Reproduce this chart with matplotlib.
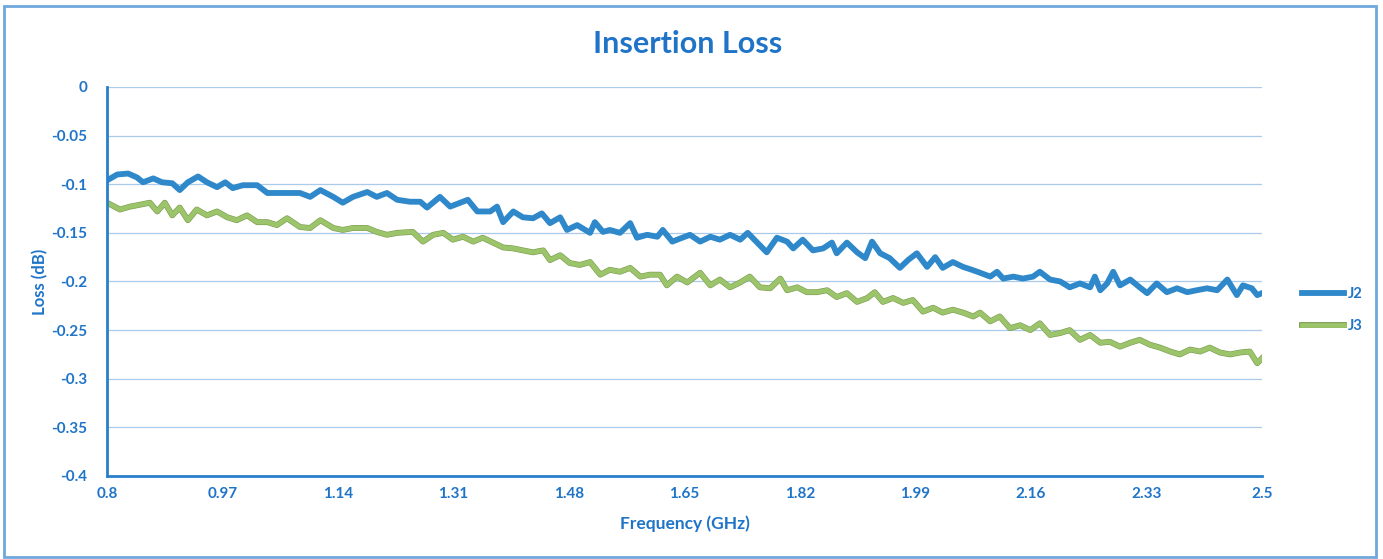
import matplotlib
matplotlib.use('Agg')
import matplotlib.pyplot as plt
import matplotlib.patheffects as pe
from matplotlib.patches import Rectangle

# values
j2_freq = [0.800, 0.815, 0.831, 0.844, 0.853, 0.868, 0.881, 0.896, 0.907, 0.919,
           0.934, 0.947, 0.962, 0.974, 0.985, 1.000, 1.021, 1.036, 1.050, 1.065,
           1.084, 1.099, 1.114, 1.133, 1.147, 1.162, 1.183, 1.197, 1.212, 1.227,
           1.246, 1.261, 1.271, 1.290, 1.305, 1.320, 1.331, 1.345, 1.364, 1.374,
           1.383, 1.398, 1.412, 1.427, 1.440, 1.452, 1.467, 1.477, 1.492, 1.511,
           1.518, 1.530, 1.540, 1.555, 1.570, 1.580, 1.595, 1.610, 1.618, 1.632,
           1.643, 1.658, 1.673, 1.688, 1.702, 1.717, 1.732, 1.743, 1.757, 1.771,
           1.786, 1.801, 1.810, 1.824, 1.839, 1.854, 1.867, 1.874, 1.889, 1.904,
           1.916, 1.926, 1.938, 1.952, 1.967, 1.979, 1.992, 2.007, 2.019, 2.030,
           2.045, 2.060, 2.073, 2.085, 2.100, 2.110, 2.119, 2.134, 2.148, 2.163,
           2.173, 2.188, 2.203, 2.217, 2.232, 2.247, 2.254, 2.262, 2.272, 2.281,
           2.291, 2.306, 2.320, 2.331, 2.345, 2.360, 2.375, 2.390, 2.404, 2.419,
           2.434, 2.449, 2.463, 2.472, 2.485, 2.493, 2.500]
j2_loss = [-0.096, -0.090, -0.089, -0.093, -0.098, -0.094, -0.098, -0.099, -0.106, -0.098,
           -0.092, -0.098, -0.103, -0.098, -0.104, -0.101, -0.101, -0.109, -0.109, -0.109,
           -0.109, -0.113, -0.106, -0.113, -0.119, -0.113, -0.108, -0.113, -0.109, -0.116,
           -0.118, -0.118, -0.124, -0.113, -0.123, -0.119, -0.116, -0.128, -0.128, -0.123,
           -0.139, -0.128, -0.134, -0.135, -0.130, -0.140, -0.134, -0.147, -0.142, -0.150,
           -0.139, -0.149, -0.147, -0.150, -0.140, -0.155, -0.152, -0.154, -0.147, -0.159,
           -0.156, -0.152, -0.159, -0.154, -0.157, -0.152, -0.157, -0.150, -0.160, -0.170,
           -0.155, -0.159, -0.166, -0.157, -0.168, -0.166, -0.160, -0.171, -0.160, -0.170,
           -0.176, -0.159, -0.171, -0.176, -0.186, -0.178, -0.171, -0.185, -0.175, -0.186,
           -0.180, -0.185, -0.188, -0.191, -0.195, -0.190, -0.197, -0.195, -0.197, -0.195,
           -0.190, -0.198, -0.200, -0.206, -0.202, -0.206, -0.195, -0.209, -0.202, -0.190,
           -0.204, -0.198, -0.206, -0.212, -0.202, -0.211, -0.207, -0.211, -0.209, -0.207,
           -0.209, -0.198, -0.214, -0.204, -0.207, -0.214, -0.212]

j3_freq = [0.800, 0.819, 0.834, 0.849, 0.863, 0.874, 0.885, 0.896, 0.907, 0.919,
           0.932, 0.947, 0.962, 0.977, 0.991, 1.006, 1.021, 1.036, 1.050, 1.065,
           1.084, 1.099, 1.114, 1.133, 1.147, 1.162, 1.183, 1.197, 1.212, 1.227,
           1.250, 1.265, 1.280, 1.295, 1.309, 1.324, 1.339, 1.353, 1.368, 1.383,
           1.398, 1.412, 1.427, 1.442, 1.452, 1.467, 1.481, 1.496, 1.511, 1.526,
           1.540, 1.555, 1.570, 1.585, 1.599, 1.614, 1.624, 1.639, 1.654, 1.673,
           1.688, 1.702, 1.717, 1.732, 1.746, 1.761, 1.776, 1.791, 1.801, 1.816,
           1.830, 1.845, 1.860, 1.874, 1.889, 1.904, 1.919, 1.930, 1.942, 1.957,
           1.972, 1.986, 2.001, 2.016, 2.030, 2.045, 2.060, 2.075, 2.085, 2.100,
           2.114, 2.129, 2.144, 2.159, 2.173, 2.188, 2.203, 2.217, 2.232, 2.247,
           2.262, 2.276, 2.291, 2.306, 2.320, 2.335, 2.350, 2.365, 2.379, 2.394,
           2.409, 2.423, 2.438, 2.453, 2.468, 2.482, 2.493, 2.500]
j3_loss = [-0.119, -0.126, -0.123, -0.121, -0.119, -0.128, -0.119, -0.132, -0.124, -0.137,
           -0.126, -0.132, -0.128, -0.134, -0.137, -0.132, -0.139, -0.139, -0.142, -0.135,
           -0.144, -0.145, -0.137, -0.145, -0.147, -0.145, -0.145, -0.149, -0.152, -0.150,
           -0.149, -0.159, -0.152, -0.150, -0.157, -0.154, -0.159, -0.155, -0.160, -0.165,
           -0.166, -0.168, -0.170, -0.168, -0.178, -0.173, -0.181, -0.183, -0.180, -0.193,
           -0.188, -0.190, -0.186, -0.195, -0.193, -0.193, -0.204, -0.195, -0.201, -0.191,
           -0.204, -0.198, -0.206, -0.201, -0.195, -0.206, -0.207, -0.197, -0.209, -0.206,
           -0.211, -0.211, -0.209, -0.216, -0.212, -0.221, -0.217, -0.211, -0.221, -0.217,
           -0.222, -0.219, -0.231, -0.227, -0.232, -0.229, -0.232, -0.236, -0.232, -0.241,
           -0.236, -0.248, -0.245, -0.250, -0.243, -0.255, -0.253, -0.250, -0.260, -0.255,
           -0.263, -0.262, -0.267, -0.263, -0.260, -0.265, -0.268, -0.272, -0.275, -0.270,
           -0.272, -0.268, -0.273, -0.275, -0.273, -0.272, -0.284, -0.279]

x_ticks = [0.8, 0.97, 1.14, 1.31, 1.48, 1.65, 1.82, 1.99, 2.16, 2.33, 2.5]
x_tick_labels = ['0.8', '0.97', '1.14', '1.31', '1.48', '1.65', '1.82', '1.99', '2.16', '2.33', '2.5']
y_ticks = [0, -0.05, -0.1, -0.15, -0.2, -0.25, -0.3, -0.35, -0.4]
y_tick_labels = ['0', '-0.05', '-0.1', '-0.15', '-0.2', '-0.25', '-0.3', '-0.35', '-0.4']

text_blue = '#1f74c8'
j2_color = '#2e88c9'
j3_color = '#9cc46a'

plt.rcParams['font.family'] = ['Lato', 'DejaVu Sans']

fig = plt.figure(figsize=(13.83, 5.59), dpi=100)
fig.patches.append(Rectangle((0.003, 0.004), 0.992, 0.986, transform=fig.transFigure,
                             fill=False, edgecolor='#6fa8dc', linewidth=2))
ax = fig.add_axes([0.0774, 0.1485, 0.8351, 0.6959])

ax.plot(j2_freq, j2_loss, color=j2_color, lw=4.2, label='J2', solid_joinstyle='round')
ax.plot(j3_freq, j3_loss, color=j3_color, lw=3.4, label='J3', solid_joinstyle='round',
        path_effects=[pe.Stroke(linewidth=4.2, foreground='#7a9a4e'), pe.Normal()])

ax.set_xlim(0.8, 2.5)
ax.set_ylim(-0.4, 0)
ax.set_xticks(x_ticks)
ax.set_xticklabels(x_tick_labels)
ax.set_yticks(y_ticks)
ax.set_yticklabels(y_tick_labels)
ax.tick_params(length=0, labelsize=11, labelcolor=text_blue)
ax.tick_params(axis='y', pad=14)
ax.tick_params(axis='x', pad=8)
for lab in ax.get_xticklabels() + ax.get_yticklabels():
    lab.set_fontweight('bold')

ax.grid(axis='y', color='#a9cbe9', lw=0.9)
ax.set_axisbelow(True)
for s in ['top', 'right']:
    ax.spines[s].set_visible(False)
for s in ['left', 'bottom']:
    ax.spines[s].set_color('#2a7fcc')
    ax.spines[s].set_linewidth(2)

ax.set_xlabel('Frequency (GHz)', fontsize=12.5, fontweight='bold', color=text_blue, labelpad=10)
ax.set_ylabel('Loss (dB)', fontsize=12, fontweight='bold', color=text_blue, labelpad=2)
fig.text(0.497, 0.922, 'Insertion Loss', ha='center', va='center', fontsize=22,
         fontweight='bold', color=text_blue)

leg = ax.legend(loc='center left', bbox_to_anchor=(1.023, 0.427), frameon=False,
                handlelength=2.9, handletextpad=0.25, labelspacing=1.25, fontsize=10.5)
for t in leg.get_texts():
    t.set_color(text_blue)
    t.set_fontweight('bold')

fig.savefig('out.png', dpi=100)
